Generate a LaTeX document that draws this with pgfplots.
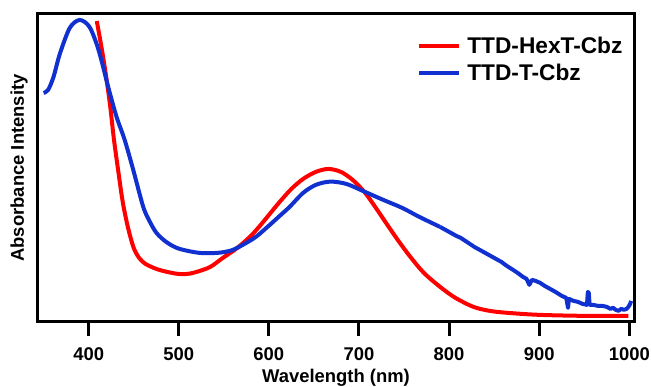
\documentclass[border=0pt]{standalone}
\usepackage{fontspec}
\setmainfont{Liberation Sans}
\usepackage{pgfplots}
\pgfplotsset{compat=1.18}
\definecolor{cred}{RGB}{255,0,0}
\definecolor{cblue}{RGB}{16,48,208}
\begin{document}
\begin{tikzpicture}
\useasboundingbox (-37.3bp,-64.3bp) rectangle (614bp,322bp);
\begin{axis}[
  scale only axis,
  width=597.7bp, height=308bp,
  xmin=343, xmax=1006, ymin=0, ymax=308,
  axis line style={line width=3bp, black},
  xtick={400,500,...,1000},
  ytick=\empty,
  xtick pos=bottom,
  tick align=outside,
  major tick length=14bp,
  every tick/.style={line width=3bp, black},
  /pgf/number format/assume math mode=true,
  /pgf/number format/set thousands separator={},
  xticklabel style={font=\bfseries\fontsize{18.5}{20}\selectfont, inner sep=0pt, anchor=north, yshift=-12bp},
  xlabel={\bfseries Wavelength (nm)},
  ylabel={\bfseries Absorbance Intensity},
  label style={font=\bfseries\fontsize{18.5}{20}\selectfont},
  xlabel style={inner sep=0pt, anchor=north, at={(axis description cs:0.5,0)}, yshift=-47bp},
  ylabel style={inner sep=0pt, anchor=south, at={(axis description cs:-0.0156,0.5)}},
  legend style={draw=none, fill=none, at={(0.635,0.93)}, anchor=north west,
    font=\bfseries\fontsize{22.8}{24}\selectfont, row sep=6bp, column sep=5bp, inner sep=0pt,
    nodes={inner sep=1.5bp}},
  legend cell align=left,
  legend image code/.code={\draw[#1, line width=4bp] (0bp,0bp) -- (40bp,0bp);},
]
\addplot[cred, line width=4bp, smooth, tension=0.5] coordinates {
(409,301) (414,276) (419,248) (424,215) (428,183) (433,150) (438,119) (444,93)
(450,74) (456,64) (463,58) (475,53) (487,50) (499,48) (510,48) (520,50)
(535,55) (549,64) (565,74) (580,86) (590,96) (601,108) (612,120) (625,133)
(638,143) (652,150) (666,153) (680,150) (693,142) (706,130) (718,115) (730,99)
(743,82) (757,65) (772,49) (790,35) (807,24) (827,15) (845,11) (865,9)
(900,7) (950,6) (999,6)
};
\addlegendentry{TTD-HexT-Cbz}
\addplot[cblue, line width=4bp, smooth, tension=0.5] coordinates {
(350,229) (355,232) (361,245) (368,268) (379,294) (390,302) (401,295) (411,272)
(422,234) (431,205) (440,182) (449.5,152) (460.6,115) (468,100) (475.5,88.7) (486,80)
(497.7,74) (510,71) (523,69) (535,68.7) (548,69.5) (560,72) (573,78) (586,85.3)
(601,97) (612,106) (623,115) (638,129) (652,137) (668,140.3) (686,138) (706,130.3)
(727,122) (748,114) (767,105) (790,95)
};
\addlegendentry{TTD-T-Cbz}
\addplot[cblue, line width=4bp, forget plot, line join=round] coordinates {
(790,95) (796,92) (802,89) (808,86) (813,84) (818,81) (823,78) (828,75) (834,72)
(840,69) (846,66) (852,63) (858,60) (864,56) (871,52) (876,49) (882,45) (886,43)
(889,37) (892,42) (896,41) (901,39) (906,36) (912,33) (918,30) (925,26) (930,24)
(932,14) (933,23) (938,21) (943,20) (948,18) (953,17) (954,30) (955,29) (956,17)
(960,17) (965,16) (970,16) (975,15) (979,13) (982,14) (985,12) (988,11) (991,13)
(994,12) (997,13) (999,15) (1001,18) (1002,21)
};
\end{axis}
\end{tikzpicture}
\end{document}
